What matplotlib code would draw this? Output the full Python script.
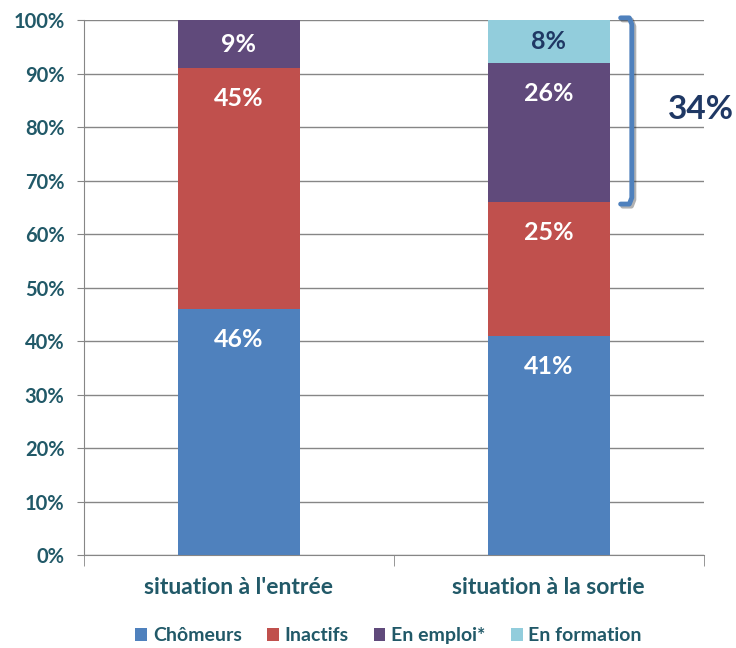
import matplotlib.pyplot as plt
from matplotlib.lines import Line2D
import matplotlib.patheffects as pe

plt.rcParams['font.family'] = ['Lato', 'DejaVu Sans']
plt.rcParams['font.weight'] = 'bold'

categories = ["situation à l'entrée", "situation à la sortie"]
series = ['Chômeurs', 'Inactifs', 'En emploi*', 'En formation']
chomeurs = [46, 41]
inactifs = [45, 25]
emploi = [9, 26]
formation = [0, 8]
bracket_label = '34%'

colors = ['#4F81BD', '#C0504D', '#604A7B', '#92CDDC']
label_colors = ['white', 'white', 'white', '#1F3864']
teal = '#215968'

fig = plt.figure(figsize=(7.36, 6.48), dpi=100)
ax = fig.add_axes([0.1141, 0.1435, 0.842, 0.8256])

x = list(range(len(categories)))
bottom = [0, 0]
for name, vals, c, lc in zip(series, [chomeurs, inactifs, emploi, formation], colors, label_colors):
    ax.bar(x, vals, width=0.395, bottom=bottom, color=c, label=name, zorder=3)
    for xi, v, b in zip(x, vals, bottom):
        if v <= 0:
            continue
        if v < 15:
            # small segment: label centred
            ax.text(xi, b + v / 2, f'{v}%', ha='center', va='center', color=lc,
                    fontsize=18, fontweight='bold', zorder=4)
        else:
            # inside end
            ax.annotate(f'{v}%', (xi, b + v), xytext=(0, -22), textcoords='offset points',
                        ha='center', va='center', color=lc,
                        fontsize=18, fontweight='bold', zorder=4)
    bottom = [b + v for b, v in zip(bottom, vals)]

ax.set_xlim(-0.5, 1.5)
ax.set_ylim(0, 100)
ax.set_yticks(range(0, 101, 10))
ax.set_yticklabels([f'{v}%' for v in range(0, 101, 10)])
ax.yaxis.grid(True, color='#868686', linewidth=1, zorder=0)
ax.tick_params(axis='y', length=5, color='#868686', pad=9, labelsize=14.5, labelcolor=teal)

ax.set_xticks(x)
ax.set_xticklabels(categories)
ax.tick_params(axis='x', which='major', length=0, pad=16, labelsize=16.5, labelcolor=teal)
ax.set_xticks([-0.5, 0.5, 1.5], minor=True)
ax.tick_params(axis='x', which='minor', length=8, color='#868686')

for s in ['top', 'right']:
    ax.spines[s].set_visible(False)
for s in ['left', 'bottom']:
    ax.spines[s].set_color('#868686')

# bracket around "En emploi" + "En formation" at exit
top = sum(b[1] for b in [chomeurs, inactifs, emploi, formation])
low = chomeurs[1] + inactifs[1]
br = Line2D([1.232, 1.26, 1.268, 1.268, 1.26, 1.232],
            [top + 0.4, top + 0.4, top - 0.8, low + 0.8, low - 0.4, low - 0.4],
            color='#4F81BD', linewidth=3.5, solid_capstyle='round', solid_joinstyle='round',
            zorder=5, clip_on=False,
            path_effects=[pe.SimpleLineShadow(offset=(1.5, -1.5), alpha=0.3), pe.Normal()])
ax.add_line(br)
ax.text(1.49, (top + low) / 2 + 0.3, bracket_label, ha='center', va='center',
        fontsize=24, fontweight='bold', color='#1F3864', clip_on=False)

fig.legend(loc='center', bbox_to_anchor=(0.528, 0.019), ncol=4, frameon=False,
           handlelength=0.6, handleheight=0.6, handletextpad=0.3, columnspacing=1.3,
           prop={'size': 14, 'weight': 'bold'}, labelcolor=teal)

fig.savefig('out.png', dpi=100)
